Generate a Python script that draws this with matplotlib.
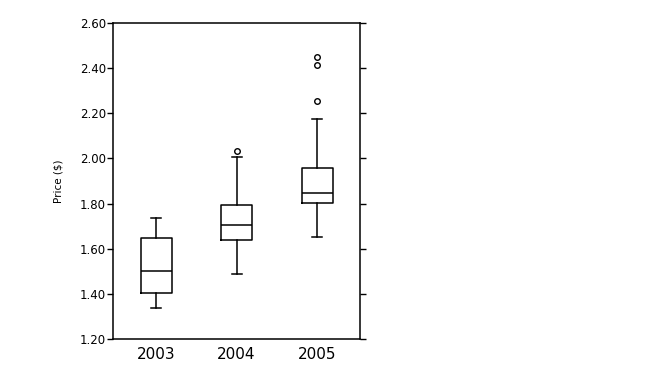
import matplotlib
matplotlib.use("Agg")
import matplotlib.pyplot as plt

####### DATA #######

years = ["2003", "2004", "2005"]
whisker_low = [1.336, 1.487, 1.650]
q1_vals = [1.405, 1.639, 1.803]
medians = [1.501, 1.706, 1.845]
q3_vals = [1.646, 1.795, 1.959]
whisker_high = [1.735, 2.008, 2.173]
outliers = [[], [2.035], [2.256, 2.414, 2.451]]

y_ticks = [1.20, 1.40, 1.60, 1.80, 2.00, 2.20, 2.40, 2.60]

####### PLOT #######

stats = []
for i in range(len(years)):
    stats.append({
        "label": years[i],
        "whislo": whisker_low[i],
        "q1": q1_vals[i],
        "med": medians[i],
        "q3": q3_vals[i],
        "whishi": whisker_high[i],
        "fliers": outliers[i],
    })

fig = plt.figure(figsize=(6.5, 3.69), dpi=100)
ax = fig.add_axes([0.174, 0.0813, 0.380, 0.8564])

lw = 1.1
ax.bxp(stats, positions=[1, 2, 3], widths=0.385, capwidths=0.124,
       boxprops=dict(color="black", linewidth=lw),
       medianprops=dict(color="black", linewidth=lw),
       whiskerprops=dict(color="black", linewidth=lw),
       capprops=dict(color="black", linewidth=lw),
       flierprops=dict(marker="o", markerfacecolor="none", markeredgecolor="black",
                       markersize=4, markeredgewidth=1.0))

ax.set_xlim(0.466, 3.534)
ax.set_ylim(1.20, 2.60)
ax.set_yticks(y_ticks)
ax.set_yticklabels([f"{t:.2f}" for t in y_ticks], fontsize=8.5)
ax.set_xticks([1, 2, 3])
ax.set_xticklabels(years, fontsize=11)
ax.tick_params(axis="x", length=0, pad=6)
ax.tick_params(axis="y", which="both", direction="out", length=4, width=1.0,
               right=True, labelright=False, pad=1)
for s in ax.spines.values():
    s.set_linewidth(1.1)

ax.set_ylabel("Price ($)", fontsize=7.5, labelpad=12)

fig.savefig("out.png", dpi=100)
